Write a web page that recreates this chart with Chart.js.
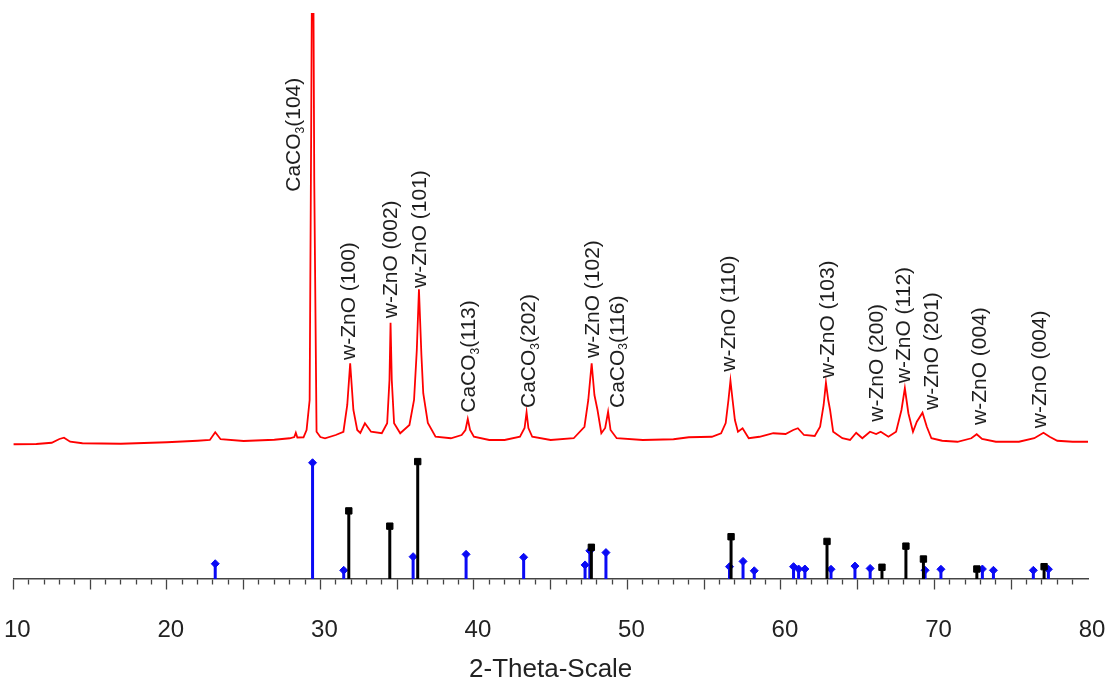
<!DOCTYPE html>
<html>
<head>
<meta charset="utf-8">
<title>XRD pattern</title>
<script src="https://cdn.jsdelivr.net/npm/chart.js@4.4.1/dist/chart.umd.min.js"></script>
<style>
  html, body { margin: 0; padding: 0; background: #fff; }
  #wrap { width: 1109px; height: 677px; }
</style>
</head>
<body>
<div id="wrap"><canvas id="xrdChart" width="1109" height="677"></canvas></div>
<script>
// measured pattern: 2-theta (deg) and intensity (counts)
const xrdTheta = [
  10.0, 11.5, 12.5, 13.0, 13.3, 13.7, 14.5, 17.0, 20.0, 22.0, 22.8, 23.15, 23.5, 25.0, 27.0, 28.0,
  28.3, 28.4, 28.5, 28.9, 29.1, 29.3, 29.4, 29.5, 29.6, 29.75, 30.0, 30.3, 31.0, 31.5, 31.75, 31.94,
  32.15, 32.4, 32.6, 32.9, 33.3, 34.0, 34.35, 34.5, 34.57, 34.65, 34.8, 35.2, 35.8, 36.1, 36.28, 36.42,
  36.58, 36.7, 37.0, 37.5, 38.5, 39.2, 39.45, 39.6, 39.75, 40.0, 41.0, 42.0, 43.0, 43.3, 43.43, 43.55,
  43.8, 45.0, 46.5, 47.2, 47.45, 47.67, 47.85, 48.05, 48.3, 48.55, 48.74, 48.9, 49.3, 51.0, 53.0, 54.0,
  55.5, 56.1, 56.4, 56.58, 56.71, 56.85, 57.0, 57.2, 57.5, 57.9, 58.6, 59.5, 60.3, 60.8, 61.1, 61.5,
  62.2, 62.55, 62.78, 62.93, 63.08, 63.2, 63.4, 64.0, 64.5, 64.9, 65.3, 65.8, 66.2, 66.5, 67.0, 67.5,
  67.85, 68.07, 68.3, 68.6, 68.85, 69.22, 69.5, 69.8, 70.5, 71.5, 72.4, 72.75, 73.1, 74.0, 75.5, 76.5,
  77.1, 77.5, 78.0, 79.0, 80.0
];
const xrdCounts = [
  143, 144, 149, 164, 169, 153, 147, 145, 151, 157, 160, 191, 163, 156, 161, 167,
  172, 189, 170, 171, 200, 320, 1400, 2600, 1200, 193, 172, 167, 180, 193, 300, 467,
  280, 200, 188, 227, 193, 187, 227, 400, 629, 400, 227, 187, 220, 320, 520, 763,
  500, 347, 228, 173, 167, 180, 200, 244, 200, 173, 160, 160, 173, 208, 271, 208,
  173, 160, 167, 213, 320, 467, 340, 280, 187, 208, 273, 200, 167, 160, 163, 171,
  173, 187, 228, 320, 397, 320, 240, 193, 207, 167, 173, 187, 184, 200, 207, 180,
  176, 213, 300, 389, 320, 280, 193, 167, 160, 189, 167, 193, 184, 193, 173, 193,
  280, 367, 267, 193, 233, 269, 213, 167, 157, 153, 167, 183, 164, 153, 153, 167,
  189, 173, 157, 153, 153
];

// reference lines (relative intensity, %)
const caco3Theta = [23.15, 29.49, 31.52, 36.04, 39.49, 43.24, 47.24, 47.55, 48.6, 56.65, 57.53, 58.26,
  60.82, 61.15, 61.56, 63.26, 64.82, 65.81, 69.39, 70.42, 73.12, 73.84, 76.44, 77.42];
const caco3Rel = [13, 99, 7.4, 19, 21, 18.5, 12, 24, 22.5, 10.5, 15, 7,
  10.5, 8.5, 8.5, 8.3, 11, 9, 7.4, 8.3, 8.5, 7.4, 7.4, 8.3];
const znoTheta = [31.85, 34.52, 36.34, 47.65, 56.75, 63.0, 66.58, 68.14, 69.28, 72.76, 77.14];
const znoRel = [58, 45, 100, 27, 36, 32, 10, 28, 17, 8.5, 10.5];

// peak labels: "_3" is a subscript digit; anchored at (2-theta, counts) of the text start
const peakLabels = ['CaCO_3(104)', 'w-ZnO (100)', 'w-ZnO (002)', 'w-ZnO (101)', 'CaCO_3(113)',
  'CaCO_3(202)', 'w-ZnO (102)', 'CaCO_3(116)', 'w-ZnO (110)', 'w-ZnO (103)', 'w-ZnO (200)',
  'w-ZnO (112)', 'w-ZnO (201)', 'w-ZnO (004)', 'w-ZnO (004)'];
const peakLabelTheta = [28.31, 31.90, 34.62, 36.52, 39.71, 43.61, 47.80, 49.37, 56.63, 63.05, 66.30,
  68.03, 69.83, 72.98, 76.88];
const peakLabelCounts = [1153, 480, 647, 768, 269, 288, 488, 288, 433, 407, 233, 387, 280, 220, 207];

const xTickLabels = [10, 20, 30, 40, 50, 60, 70, 80];
const xTitle = '2-Theta-Scale';

const FONT = '"Liberation Sans", Arial, sans-serif';

function stickPoints(theta, rel) {
  const pts = [];
  theta.forEach((t, i) => {
    pts.push({ x: t, y: 0 }, { x: t, y: rel[i] }, { x: t, y: null });
  });
  return pts;
}

const peakLabelPlugin = {
  id: 'peakLabels',
  afterDatasetsDraw(chart) {
    const { ctx, scales } = chart;
    peakLabels.forEach((txt, i) => {
      const px = scales.x.getPixelForValue(peakLabelTheta[i]);
      const py = scales.y.getPixelForValue(peakLabelCounts[i]);
      ctx.save();
      ctx.translate(px, py);
      ctx.rotate(-Math.PI / 2);
      ctx.fillStyle = '#1e1e1e';
      ctx.textAlign = 'left';
      ctx.textBaseline = 'middle';
      let cx = 0;
      txt.split(/(_\d)/).forEach(part => {
        if (!part) return;
        if (part[0] === '_') {
          ctx.font = '12px ' + FONT;
          ctx.fillText(part.slice(1), cx, 6);
          cx += ctx.measureText(part.slice(1)).width;
        } else {
          ctx.font = '21px ' + FONT;
          ctx.fillText(part, cx, 0);
          cx += ctx.measureText(part).width;
        }
      });
      ctx.restore();
    });
  }
};

const XrdChart = {
  init() {
    const canvas = document.getElementById('xrdChart');
    new Chart(canvas.getContext('2d'), {
      type: 'line',
      data: {
        datasets: [
          {
            label: 'w-ZnO',
            yAxisID: 'y2',
            data: stickPoints(znoTheta, znoRel),
            borderColor: '#000000',
            borderWidth: 3,
            borderCapStyle: 'butt',
            pointStyle: 'rect',
            pointRadius: c => (c.index % 3 === 1 ? 4.5 : 0),
            pointBackgroundColor: '#000000',
            pointBorderColor: '#000000',
            pointBorderWidth: 1,
            spanGaps: false
          },
          {
            label: 'CaCO3',
            yAxisID: 'y2',
            data: stickPoints(caco3Theta, caco3Rel),
            borderColor: '#0a0af5',
            borderWidth: 3,
            borderCapStyle: 'butt',
            pointStyle: 'rectRot',
            pointRadius: c => (c.index % 3 === 1 ? 4 : 0),
            pointBackgroundColor: '#0a0af5',
            pointBorderColor: '#0a0af5',
            pointBorderWidth: 1,
            spanGaps: false
          },
          {
            label: 'sample',
            yAxisID: 'y',
            data: xrdTheta.map((t, i) => ({ x: t, y: xrdCounts[i] })),
            borderColor: '#ff0000',
            borderWidth: 1.8,
            pointRadius: 0,
            tension: 0
          }
        ]
      },
      options: {
        responsive: false,
        animation: false,
        devicePixelRatio: 1,
        events: [],
        layout: { padding: { top: 13, right: 21, left: 0, bottom: 0 } },
        plugins: { legend: { display: false }, tooltip: { enabled: false } },
        scales: {
          x: {
            type: 'linear',
            position: 'bottom',
            min: 10,
            max: 80,
            grid: {
              drawOnChartArea: false,
              drawTicks: true,
              // long tick slot holds the label gap; dashes keep the visible marks short
              tickLength: 36.6,
              tickWidth: 1.3,
              tickColor: c => (c.tick && c.tick.value === 80 ? 'rgba(0,0,0,0)' : '#444444'),
              tickBorderDash: c => (c.tick && c.tick.value % 5 === 0 ? [10, 100] : [5, 100])
            },
            border: { color: '#444444', width: 1.5 },
            ticks: {
              stepSize: 1,
              autoSkip: false,
              maxRotation: 0,
              padding: 0,
              labelOffset: 4,
              color: '#222222',
              font: { family: FONT, size: 24 },
              callback: v => (xTickLabels.includes(v) ? String(v) : '')
            },
            title: {
              display: true,
              text: xTitle,
              color: '#222222',
              font: { family: FONT, size: 26 },
              padding: { top: 10.1, bottom: -8.7 }
            }
          },
          y: { display: false, min: -396, max: 1868 },
          y2: { display: false, min: 0, max: 482 }
        }
      },
      plugins: [peakLabelPlugin]
    });
  }
};

document.addEventListener('DOMContentLoaded', () => XrdChart.init());
</script>
</body>
</html>
